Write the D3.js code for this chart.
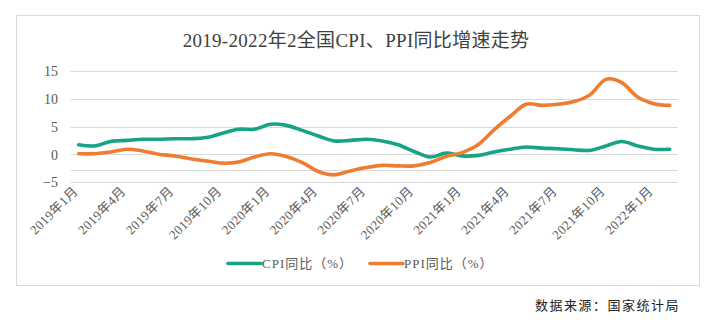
<!DOCTYPE html>
<html>
<head>
<meta charset="utf-8">
<script src="https://cdn.jsdelivr.net/npm/d3@7"></script>
<style>
  html, body { margin: 0; padding: 0; background: #fff; }
  svg { display: block; }
</style>
</head>
<body>
<svg id="chart" width="710" height="324"></svg>
<script>
// Monthly categories, Jan 2019 – Feb 2022
const months = [];
for (let y = 2019; y <= 2022; y++) {
  for (let m = 1; m <= 12; m++) {
    if (y === 2022 && m > 2) break;
    months.push(y + "年" + m + "月");
  }
}

// CPI year-on-year (%)
const cpiValues = [
  1.7, 1.5, 2.3, 2.5, 2.7, 2.7, 2.8, 2.8, 3.0, 3.8, 4.5, 4.5,
  5.4, 5.2, 4.3, 3.3, 2.4, 2.5, 2.7, 2.4, 1.7, 0.5, -0.5, 0.2,
  -0.3, -0.2, 0.4, 0.9, 1.3, 1.1, 1.0, 0.8, 0.7, 1.5, 2.3, 1.5,
  0.9, 0.9
];

// PPI year-on-year (%)
const ppiValues = [
  0.1, 0.1, 0.4, 0.9, 0.6, 0.0, -0.3, -0.8, -1.2, -1.6, -1.4, -0.5,
  0.1, -0.4, -1.5, -3.1, -3.7, -3.0, -2.4, -2.0, -2.1, -2.1, -1.5, -0.4,
  0.3, 1.7, 4.4, 6.8, 9.0, 8.8, 9.0, 9.5, 10.7, 13.5, 12.9, 10.3,
  9.1, 8.8
];

const yTicks = [15, 10, 5, 0, -5];
const extraRule = -2.8;

const seriesNames = ["CPI同比（%）", "PPI同比（%）"];
const seriesColors = ["#16a386", "#ee7d31"];

const titleText = "2019-2022年2全国CPI、PPI同比增速走势";
const sourceText = "数据来源：国家统计局";

const serif = "'Liberation Serif', 'Noto Sans CJK SC', serif";
const cjk = "'Noto Sans CJK SC', sans-serif";

const svg = d3.select("#chart");

// chart frame
svg.append("rect")
  .attr("x", 16.5).attr("y", 15.5)
  .attr("width", 683).attr("height", 270)
  .attr("fill", "#fff")
  .attr("stroke", "#d9d9d9")
  .attr("stroke-width", 1);

// title
svg.append("text")
  .attr("x", 356).attr("y", 47)
  .attr("text-anchor", "middle")
  .attr("font-family", serif)
  .attr("font-size", 19)
  .attr("letter-spacing", 0.3)
  .attr("fill", "#404040")
  .text(titleText);

const x = d3.scaleBand()
  .domain(months)
  .range([70.7, 677.7]);

const y = d3.scaleLinear()
  .domain([-5, 15])
  .range([182, 71]);

// gridlines
const grid = svg.append("g");
grid.selectAll("line.g")
  .data(yTicks.concat([extraRule]))
  .join("line")
  .attr("class", "g")
  .attr("x1", 70.7).attr("x2", 677.7)
  .attr("y1", d => Math.round(y(d)) + 0.5)
  .attr("y2", d => Math.round(y(d)) + 0.5)
  .attr("stroke", "#d9d9d9")
  .attr("stroke-width", 1);

// y axis labels
const yAxis = d3.axisLeft(y).tickValues(yTicks).tickSize(0).tickPadding(0)
  .tickFormat(d => d < 0 ? "\u2212" + Math.abs(d) : String(d));
const yg = svg.append("g")
  .attr("transform", "translate(58,0)")
  .call(yAxis);
yg.select(".domain").remove();
yg.selectAll("text")
  .attr("font-family", serif)
  .attr("font-size", 14)
  .attr("fill", "#595959")
  .attr("dy", "0.35em");

// x axis labels every third month
const xAxis = d3.axisBottom(x)
  .tickValues(months.filter((d, i) => i % 3 === 0))
  .tickSize(0).tickPadding(0);
const xg = svg.append("g")
  .attr("transform", "translate(0,182)")
  .call(xAxis);
xg.select(".domain").remove();
xg.selectAll("text")
  .attr("font-family", serif)
  .attr("font-size", 13)
  .attr("letter-spacing", 0.4)
  .attr("fill", "#595959")
  .attr("text-anchor", "end")
  .attr("dy", 0)
  .attr("y", 0)
  .attr("transform", "translate(0,10) rotate(-45)");

// series lines
const line = d3.line()
  .x((d, i) => x(months[i]) + x.bandwidth() / 2)
  .y(d => y(d))
  .curve(d3.curveCardinal.tension(0));

[cpiValues, ppiValues].forEach((vals, k) => {
  svg.append("path")
    .datum(vals)
    .attr("d", line)
    .attr("fill", "none")
    .attr("stroke", seriesColors[k])
    .attr("stroke-width", 3.6)
    .attr("stroke-linecap", "round")
    .attr("stroke-linejoin", "round");
});

// legend
const legendX = [228, 370];
const legend = svg.append("g");
seriesNames.forEach((name, k) => {
  legend.append("line")
    .attr("x1", legendX[k]).attr("x2", legendX[k] + 33)
    .attr("y1", 263.5).attr("y2", 263.5)
    .attr("stroke", seriesColors[k])
    .attr("stroke-width", 3.6)
    .attr("stroke-linecap", "round");
  legend.append("text")
    .attr("x", legendX[k] + 34).attr("y", 263.5)
    .attr("dy", "0.35em")
    .attr("font-family", serif)
    .attr("font-size", 13)
    .attr("letter-spacing", 1)
    .attr("fill", "#595959")
    .text(name);
});

// source note
svg.append("text")
  .attr("x", 535).attr("y", 305)
  .attr("dy", "0.35em")
  .attr("font-family", cjk)
  .attr("font-size", 13)
  .attr("letter-spacing", 1.5)
  .attr("fill", "#222")
  .text(sourceText);
</script>
</body>
</html>
